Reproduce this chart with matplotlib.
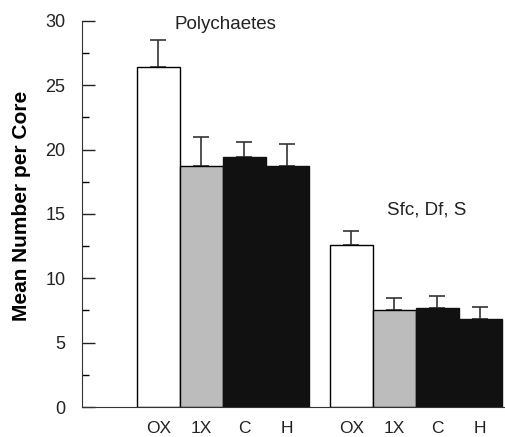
import matplotlib.pyplot as plt
import numpy as np

plt.rcParams['font.family'] = ['Liberation Sans', 'DejaVu Sans']

treatments = ['OX', '1X', 'C', 'H']
poly_mean = [26.4, 18.7, 19.4, 18.7]
poly_err = [2.1, 2.3, 1.2, 1.7]
sfc_mean = [12.6, 7.5, 7.7, 6.85]
sfc_err = [1.1, 1.0, 0.9, 0.95]

colors = ['white', '#bcbcbc', '#111111', '#111111']
edges = ['black', 'black', '#111111', '#111111']

fig = plt.figure(figsize=(5.06, 4.37), dpi=100)
ax = fig.add_axes([0.162, 0.0686, 0.838, 0.8835])

x1 = np.arange(4)
x2 = np.arange(4) + 4.5

for xs, means, errs in [(x1, poly_mean, poly_err), (x2, sfc_mean, sfc_err)]:
    ax.errorbar(xs, means, yerr=[np.zeros(4), errs], fmt='none', ecolor='#333333',
                elinewidth=1.2, capsize=6, capthick=1.2, zorder=1)
    ax.bar(xs, means, width=1.0, color=colors, edgecolor=edges, linewidth=1.0, zorder=2)

ax.set_xlim(-1.78, 8.1)
ax.set_ylim(0, 30)
ax.set_yticks([0, 5, 10, 15, 20, 25, 30])
ax.set_yticks(np.arange(2.5, 30, 5), minor=True)
ax.tick_params(axis='y', direction='in', length=9, width=1, labelsize=13, pad=12, colors='#222222')
ax.tick_params(axis='y', which='minor', direction='in', length=5, width=1)
ax.set_xticks(np.concatenate([x1, x2]))
ax.set_xticklabels(treatments * 2, fontsize=12.5, color='#222222')
ax.tick_params(axis='x', length=0, pad=10)

for s in ['top', 'right']:
    ax.spines[s].set_visible(False)
ax.spines['left'].set_color('#333333')
ax.spines['bottom'].set_color('#333333')

ax.text(1.56, 29.75, 'Polychaetes', fontsize=13.5, ha='center', va='center', color='#222222')
ax.text(6.25, 15.3, 'Sfc, Df, S', fontsize=13.5, ha='center', va='center', color='#222222')

fig.text(0.043, 0.53, 'Mean Number per Core', rotation=90, fontsize=15,
         fontweight='bold', ha='center', va='center')

fig.savefig('out.png', dpi=100)
